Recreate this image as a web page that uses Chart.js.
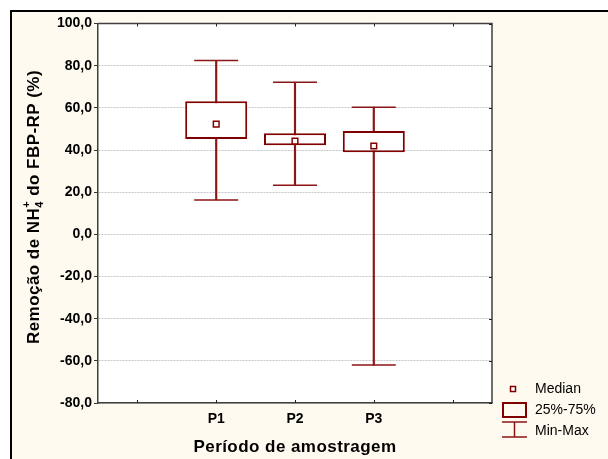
<!DOCTYPE html>
<html>
<head>
<meta charset="utf-8">
<script src="https://cdn.jsdelivr.net/npm/chart.js@4.4.1/dist/chart.umd.min.js"></script>
<style>
  html, body { margin: 0; padding: 0; background: #fff; }
  canvas { display: block; }
</style>
</head>
<body>
<canvas id="boxChart" width="608" height="459"></canvas>
<script>
// valores
const categories = ["", "P1", "P2", "P3", ""];
const minValues = [null, 16.3, 23.3, -62.0, null];
const q1Values = [null, 45.2, 42.2, 38.9, null];
const medianValues = [null, 52.3, 44.2, 41.9, null];
const q3Values = [null, 63.1, 47.9, 49.0, null];
const maxValues = [null, 82.5, 72.1, 60.3, null];
const yTicks = [-80, -60, -40, -20, 0, 20, 40, 60, 80, 100];
const legendLabels = ["Median", "25%-75%", "Min-Max"];
const xTitle = "Período de amostragem";
const yTitleParts = ["Remoção de NH", "4", "+", " do FBP-RP (%)"];

const RED = "#800000";
const FONT = "'Liberation Sans', Arial, sans-serif";

const whiskerData = categories.map((_, i) =>
  minValues[i] === null ? null : [minValues[i], maxValues[i]]
);
const boxData = categories.map((_, i) =>
  q1Values[i] === null ? null : [q1Values[i], q3Values[i]]
);

const framePlugin = {
  id: "frame",
  beforeDraw(chart) {
    const { ctx, chartArea: a, width, height } = chart;
    ctx.save();
    ctx.fillStyle = "#ffffff";
    ctx.fillRect(0, 0, width, height);
    ctx.fillStyle = "#fffaf0";
    ctx.fillRect(10, 10, width - 10, height - 10);
    ctx.fillStyle = "#000";
    ctx.fillRect(10, 10, width - 10, 2);
    ctx.fillRect(10, 10, 2, height - 10);
    ctx.fillStyle = "#ffffff";
    ctx.fillRect(a.left, a.top, a.right - a.left, a.bottom - a.top);
    ctx.restore();
  },
  afterDraw(chart) {
    const { ctx, chartArea: a, scales } = chart;
    ctx.save();

    // moldura do gráfico (topo e direita)
    ctx.strokeStyle = "#404040";
    ctx.lineWidth = 1.5;
    ctx.beginPath();
    ctx.moveTo(a.left, a.top);
    ctx.lineTo(a.right, a.top);
    ctx.lineTo(a.right, a.bottom);
    ctx.stroke();

    // marcas internas
    ctx.lineWidth = 1;
    ctx.strokeStyle = "#222";
    ctx.beginPath();
    categories.forEach((_, i) => {
      const x = Math.round(scales.x.getPixelForValue(i)) + 0.5;
      ctx.moveTo(x, a.bottom);
      ctx.lineTo(x, a.bottom - 3);
      ctx.moveTo(x, a.top);
      ctx.lineTo(x, a.top + 3);
    });
    yTicks.forEach((v) => {
      const y = Math.round(scales.y.getPixelForValue(v)) + 0.5;
      ctx.moveTo(a.right, y);
      ctx.lineTo(a.right - 3, y);
    });
    ctx.stroke();

    // título do eixo x
    ctx.fillStyle = "#000";
    ctx.font = "bold 17px " + FONT;
    ctx.letterSpacing = "0.45px";
    ctx.textAlign = "center";
    ctx.textBaseline = "middle";
    ctx.fillText(xTitle, (a.left + a.right) / 2, 447);

    // título do eixo y com NH4+
    ctx.save();
    ctx.translate(33, 207);
    ctx.rotate(-Math.PI / 2);
    ctx.textAlign = "left";
    ctx.textBaseline = "alphabetic";
    const big = "bold 17px " + FONT;
    const small = "bold 11px " + FONT;
    ctx.font = big;
    const w0 = ctx.measureText(yTitleParts[0]).width;
    const w3 = ctx.measureText(yTitleParts[3]).width;
    ctx.font = small;
    const wSmall = Math.max(
      ctx.measureText(yTitleParts[1]).width,
      ctx.measureText(yTitleParts[2]).width
    );
    let x = -(w0 + wSmall + w3) / 2;
    ctx.font = big;
    ctx.fillText(yTitleParts[0], x, 6);
    x += w0;
    ctx.font = small;
    ctx.fillText(yTitleParts[1], x, 10);
    ctx.fillText(yTitleParts[2], x, -3);
    x += wSmall;
    ctx.font = big;
    ctx.fillText(yTitleParts[3], x, 6);
    ctx.restore();

    // legenda
    ctx.letterSpacing = "0px";
    ctx.strokeStyle = RED;
    ctx.lineWidth = 1.5;
    ctx.fillStyle = "#fff";
    ctx.fillRect(510.5, 386.5, 5, 5);
    ctx.strokeRect(510.5, 386.5, 5, 5);
    ctx.lineWidth = 2;
    ctx.strokeRect(503, 403, 23, 14);
    ctx.lineWidth = 1.5;
    ctx.strokeStyle = "#8c1515";
    ctx.beginPath();
    ctx.moveTo(502, 422);
    ctx.lineTo(527, 422);
    ctx.moveTo(514.5, 422);
    ctx.lineTo(514.5, 437);
    ctx.moveTo(502, 437);
    ctx.lineTo(527, 437);
    ctx.stroke();

    ctx.fillStyle = "#000";
    ctx.font = "14px " + FONT;
    ctx.textAlign = "left";
    ctx.textBaseline = "middle";
    ctx.fillText(legendLabels[0], 535, 389);
    ctx.fillText(legendLabels[1], 535, 410);
    ctx.fillText(legendLabels[2], 535, 431);

    ctx.restore();
  },
};

const ctx = document.getElementById("boxChart").getContext("2d");

const boxChart = new Chart(ctx, {
  type: "bar",
  data: {
    labels: categories,
    datasets: [
      {
        label: "Min-Max",
        data: whiskerData,
        backgroundColor: "#8c1515",
        barThickness: 1.5,
        grouped: false,
        order: 4,
      },
      {
        label: "25%-75%",
        data: boxData,
        backgroundColor: "#ffffff",
        borderColor: RED,
        borderWidth: 2,
        borderSkipped: false,
        barPercentage: 0.787,
        categoryPercentage: 1,
        grouped: false,
        order: 3,
      },
      {
        type: "line",
        label: "Min",
        data: minValues,
        showLine: false,
        pointStyle: "line",
        pointRadius: 22,
        borderColor: "#8c1515",
        borderWidth: 1.5,
        order: 2,
      },
      {
        type: "line",
        label: "Max",
        data: maxValues,
        showLine: false,
        pointStyle: "line",
        pointRadius: 22,
        borderColor: "#8c1515",
        borderWidth: 1.5,
        order: 2,
      },
      {
        type: "line",
        label: "Median",
        data: medianValues,
        showLine: false,
        pointStyle: "rect",
        pointRadius: 4,
        pointBackgroundColor: "#ffffff",
        pointBorderColor: RED,
        pointBorderWidth: 1.5,
        order: 1,
      },
    ],
  },
  options: {
    responsive: false,
    animation: false,
    layout: { padding: { top: 23, right: 116, left: 0, bottom: 0 } },
    plugins: {
      legend: { display: false },
      tooltip: { enabled: false },
    },
    scales: {
      x: {
        afterFit: (scale) => {
          scale.height = 56;
        },
        grid: { drawOnChartArea: false, drawTicks: false },
        border: { color: "#404040", width: 1.5 },
        ticks: {
          color: "#000",
          padding: 8,
          font: { family: FONT, size: 14, weight: "bold" },
        },
      },
      y: {
        min: yTicks[0],
        max: yTicks[yTicks.length - 1],
        afterBuildTicks: (scale) => {
          scale.ticks = yTicks.map((v) => ({ value: v }));
        },
        afterFit: (scale) => {
          scale.width = 98;
        },
        grid: {
          color: "#c6c6c6",
          tickColor: "#333",
          tickLength: 4,
        },
        border: { color: "#404040", width: 1.5, dash: [2, 1] },
        ticks: {
          color: "#000",
          padding: 2,
          font: { family: FONT, size: 14, weight: "bold" },
          callback: (v) => v.toFixed(1).replace(".", ","),
        },
      },
    },
  },
  plugins: [framePlugin],
});
</script>
</body>
</html>
